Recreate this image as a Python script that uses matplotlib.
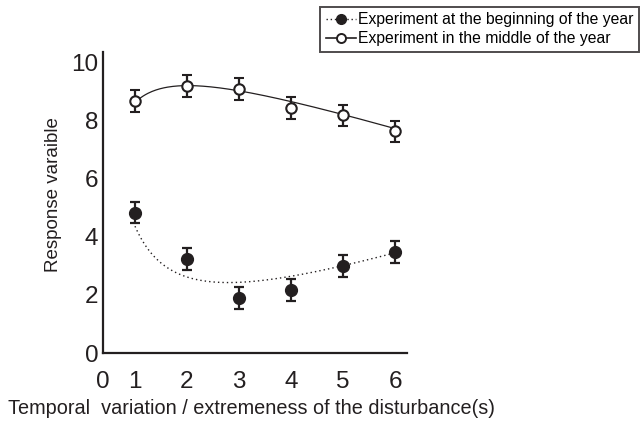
import numpy as np
import matplotlib
matplotlib.use("Agg")
import matplotlib.pyplot as plt
from matplotlib.lines import Line2D

plt.rcParams['font.family'] = ['Liberation Sans', 'DejaVu Sans']

# data
x_vals = [1, 2, 3, 4, 5, 6]
begin_y = [4.83, 3.24, 1.90, 2.17, 3.00, 3.48]
begin_err = [0.37, 0.38, 0.38, 0.38, 0.37, 0.38]
middle_y = [8.66, 9.17, 9.07, 8.41, 8.17, 7.62]
middle_err = [0.37, 0.38, 0.38, 0.38, 0.37, 0.36]

# points
trend_x = [1, 1.5, 2, 2.5, 3, 4, 5, 6]
begin_trend = [4.34, 3.10, 2.69, 2.45, 2.38, 2.59, 3.00, 3.48]
middle_trend = [8.66, 9.00, 9.17, 9.17, 9.07, 8.66, 8.20, 7.69]

x_ticks = [0.385, 1, 2, 3, 4, 5, 6]
x_tick_labels = ["0", "1", "2", "3", "4", "5", "6"]
y_ticks = [0, 2, 4, 6, 8, 10]

label_begin = "Experiment at the beginning of the year"
label_middle = "Experiment in the middle of the year"

dark = "#231f20"


def fit_trend(xs, ys, x_new):
    # least squares fit of y = a + b/x + c*x to the curve samples
    xs = np.asarray(xs, float)
    basis = np.column_stack([np.ones_like(xs), 1 / xs, xs])
    coef, *_ = np.linalg.lstsq(basis, np.asarray(ys, float), rcond=None)
    return coef[0] + coef[1] / x_new + coef[2] * x_new


fig = plt.figure(figsize=(6.41, 4.26), dpi=100)
ax = fig.add_axes([103 / 641, 73 / 426, 304 / 641, 301 / 426])

xs = np.linspace(1, 6, 200)
ax.plot(xs, fit_trend(trend_x, begin_trend, xs), color=dark, lw=1.0,
        linestyle=(0, (1, 2.2)))
ax.plot(xs, fit_trend(trend_x, middle_trend, xs), color=dark, lw=0.9)

ax.errorbar(x_vals, begin_y, yerr=begin_err, fmt='o', color=dark,
            mfc=dark, mec=dark, ms=8.5, elinewidth=1.6, capsize=3.5,
            capthick=1.6)
ax.errorbar(x_vals, middle_y, yerr=middle_err, fmt='o', color=dark,
            mfc='white', mec=dark, mew=1.5, ms=7.5, elinewidth=1.6,
            capsize=3.5, capthick=1.6)

ax.set_xlim(0.385, 6.23)
ax.set_ylim(0, 10.35)
ax.set_xticks(x_ticks)
ax.set_xticklabels(x_tick_labels)
ax.set_yticks(y_ticks)
ax.tick_params(length=0, labelsize=17.5, colors=dark)
ax.tick_params(axis='x', pad=13)
ax.tick_params(axis='y', pad=3.5)
for side in ['top', 'right']:
    ax.spines[side].set_visible(False)
for side in ['left', 'bottom']:
    ax.spines[side].set_linewidth(1.6)
    ax.spines[side].set_color(dark)

ax.set_ylabel("Response varaible", fontsize=13.5, color=dark)
ax.yaxis.set_label_coords(-0.135, 0.525)
fig.text(251 / 641, 1 - 408 / 426,
         "Temporal  variation / extremeness of the disturbance(s)",
         fontsize=14.3, color=dark, ha='center', va='center')

handles = [
    Line2D([], [], color=dark, lw=1.0, linestyle=(0, (1, 2)), marker='o',
           ms=7, mfc=dark, mec=dark),
    Line2D([], [], color=dark, lw=1.2, marker='o', ms=6.5, mfc='white',
           mec=dark, mew=1.4),
]
leg = fig.legend(handles, [label_begin, label_middle],
                 loc='upper right', bbox_to_anchor=(639 / 641, 1 - 7 / 426),
                 fontsize=11.3, frameon=True, fancybox=False,
                 handlelength=1.9, handletextpad=0.15, borderpad=0.35,
                 labelspacing=0.25, borderaxespad=0)
leg.get_frame().set_edgecolor(dark)
leg.get_frame().set_linewidth(1.4)

fig.savefig("out.png", dpi=100)
